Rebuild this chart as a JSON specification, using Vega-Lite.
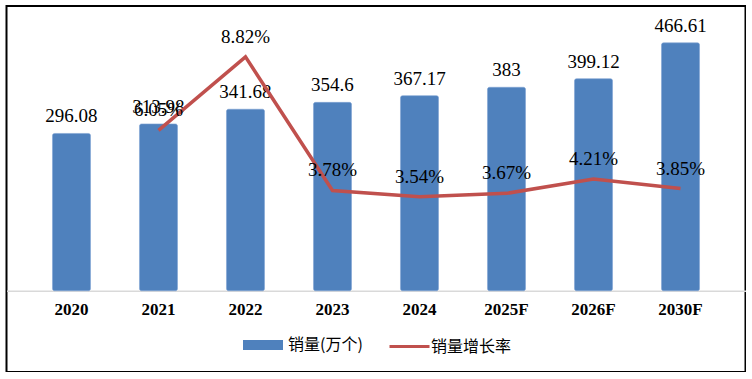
{
  "$schema": "https://vega.github.io/schema/vega-lite/v6.json",
  "width": 739,
  "height": 366,
  "autosize": {"type": "none"},
  "padding": {"left": 6.5, "top": 6, "right": 0, "bottom": 0},
  "background": "white",
  "config": {"view": {"stroke": "black", "strokeWidth": 2}, "font": "Liberation Serif"},
  "data": {
    "values": [
      {"year": "2020", "sales": 296.08, "rate": null},
      {"year": "2021", "sales": 313.98, "rate": 0.0605},
      {"year": "2022", "sales": 341.68, "rate": 0.0882},
      {"year": "2023", "sales": 354.6, "rate": 0.0378},
      {"year": "2024", "sales": 367.17, "rate": 0.0354},
      {"year": "2025F", "sales": 383, "rate": 0.0367},
      {"year": "2026F", "sales": 399.12, "rate": 0.0421},
      {"year": "2030F", "sales": 466.61, "rate": 0.0385}
    ]
  },
  "encoding": {
    "x": {
      "field": "year",
      "type": "ordinal",
      "sort": null,
      "scale": {"paddingInner": 0.563, "paddingOuter": 0.5285},
      "axis": {
        "title": null,
        "orient": "bottom",
        "offset": -81.3,
        "labelAngle": 0,
        "domain": true,
        "domainColor": "#d9d9d9",
        "domainWidth": 1.5,
        "ticks": false,
        "labelPadding": 11,
        "labelFont": "Liberation Serif",
        "labelFontWeight": "bold",
        "labelFontSize": 17,
        "labelColor": "black"
      }
    }
  },
  "layer": [
    {
      "mark": {"type": "bar", "cornerRadius": 2, "stroke": "#7fa3d3", "strokeWidth": 0.6},
      "encoding": {
        "y": {"field": "sales", "type": "quantitative", "scale": {"domain": [-153, 536]}, "axis": null},
        "y2": {"datum": 0},
        "fill": {
          "datum": "销量(万个)",
          "type": "nominal",
          "scale": {"range": ["#4f81bd"]},
          "legend": {
            "orient": "none",
            "legendX": 236.5,
            "legendY": 319,
            "title": null,
            "padding": 0,
            "symbolType": "M-1,-0.25H1V0.25H-1Z",
            "symbolSize": 1600,
            "symbolStrokeWidth": 0,
            "labelOffset": 5,
            "labelFont": "Noto Sans CJK SC",
            "labelFontSize": 16,
            "labelColor": "black"
          }
        }
      }
    },
    {
      "mark": {"type": "text", "baseline": "alphabetic", "dy": -11, "fontSize": 19, "font": "Liberation Serif", "color": "black"},
      "encoding": {
        "y": {"field": "sales", "type": "quantitative", "scale": {"domain": [-153, 536]}, "axis": null},
        "text": {"field": "sales", "type": "nominal"}
      }
    },
    {
      "transform": [{"filter": "datum.rate != null"}],
      "mark": {"type": "line", "strokeWidth": 3.5},
      "encoding": {
        "y": {"field": "rate", "type": "quantitative", "scale": {"domain": [-0.0307, 0.1074]}, "axis": null},
        "stroke": {
          "datum": "销量增长率",
          "type": "nominal",
          "scale": {"range": ["#c0504d"]},
          "legend": {
            "orient": "none",
            "legendX": 381.5,
            "legendY": 319,
            "title": null,
            "padding": 0,
            "symbolType": "stroke",
            "symbolSize": 1600,
            "symbolStrokeWidth": 3,
            "labelOffset": 0,
            "labelFont": "Noto Sans CJK SC",
            "labelFontSize": 16,
            "labelColor": "black"
          }
        }
      }
    },
    {
      "transform": [{"filter": "datum.rate != null"}],
      "mark": {"type": "text", "baseline": "middle", "dy": -20, "fontSize": 19, "font": "Liberation Serif", "color": "black"},
      "encoding": {
        "y": {"field": "rate", "type": "quantitative", "scale": {"domain": [-0.0307, 0.1074]}, "axis": null},
        "text": {"field": "rate", "type": "quantitative", "format": ".2%"}
      }
    }
  ],
  "resolve": {"scale": {"y": "independent"}}
}
